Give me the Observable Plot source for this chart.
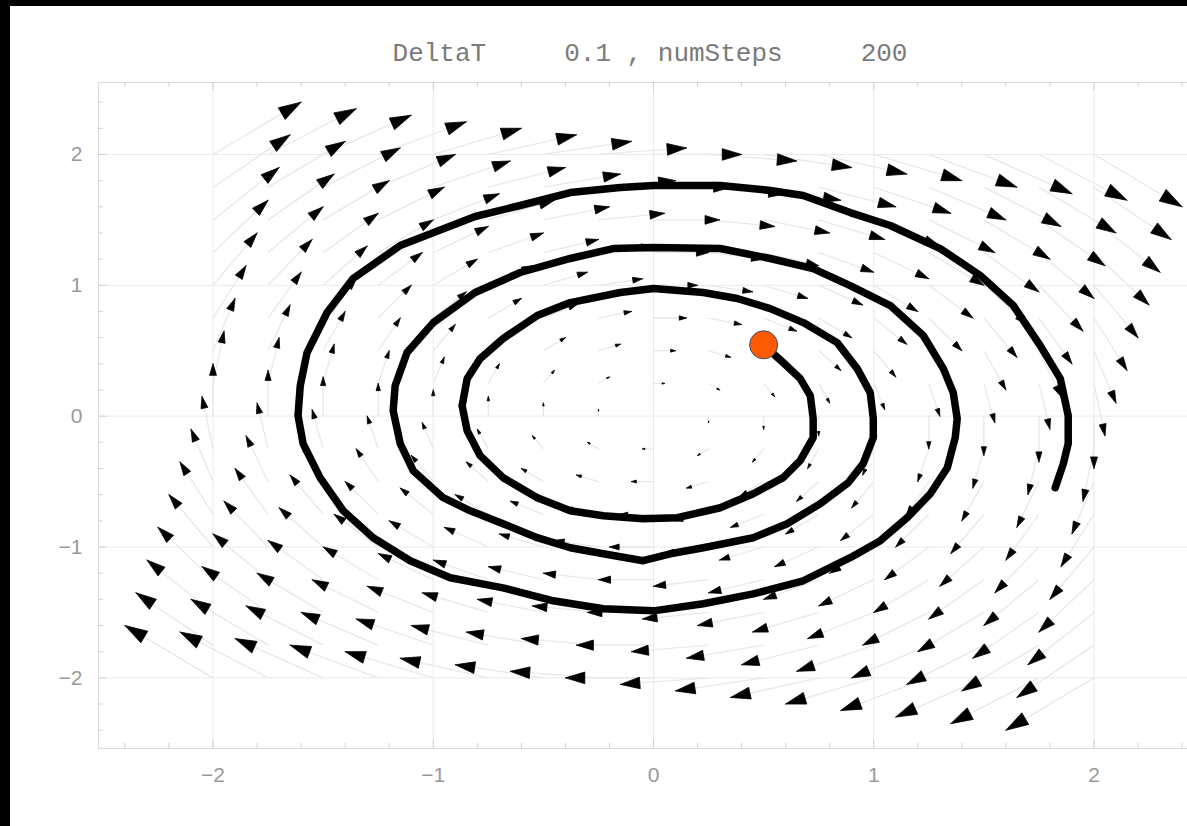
<!DOCTYPE html>
<html>
<head>
<meta charset="utf-8">
<script src="https://cdn.jsdelivr.net/npm/d3@7"></script>
<script src="https://cdn.jsdelivr.net/npm/@observablehq/plot@0.6"></script>
<style>
  html, body { margin: 0; padding: 0; background: #000; overflow: hidden; width: 1187px; height: 826px; }
  #sheet { position: absolute; left: 10px; top: 6px; width: 1177px; height: 820px; background: #fff; overflow: hidden; }
  #title { position: absolute; left: 640px; top: 35px; transform: translateX(-50%);
           font-family: "Liberation Mono", monospace; font-size: 26px; line-height: 26px;
           color: #7a7a7a; white-space: pre; }
  #chart { position: absolute; left: 0; top: 0; width: 1198px; }
  #chart svg { max-width: none !important; }
</style>
</head>
<body>
<div id="sheet">
  <div id="title"></div>
  <div id="chart"></div>
</div>
<script>
// Euler-method settings shown in the heading
const deltaT = 0.1;
const numSteps = 200;

// Linear system x' = A x (rotation field)
const fieldMatrix = [[0, 1], [-1, 0]];

// Sample positions of the vector field (both axes)
const gridValues = [-2, -1.75, -1.5, -1.25, -1, -0.75, -0.5, -0.25, 0, 0.25, 0.5, 0.75, 1, 1.25, 1.5, 1.75, 2];

// Axis ticks
const majorTicks = [-2, -1, 0, 1, 2];
const minorTicks = [-2.4, -2.2, -1.8, -1.6, -1.4, -1.2, -0.8, -0.6, -0.4, -0.2,
                    0.2, 0.4, 0.6, 0.8, 1.2, 1.4, 1.6, 1.8, 2.2, 2.4];

// Start point of the trajectory
const startPoint = [0.5, 0.545];

// Trajectory (spiralling outward, clockwise)
const pathX = [0.500, 0.589, 0.666, 0.712, 0.725, 0.725, 0.666, 0.589, 0.453, 0.303,
  0.108, -0.047, -0.228, -0.378, -0.528, -0.683, -0.787, -0.846, -0.869, -0.846,
  -0.787, -0.683, -0.528, -0.378, -0.151, 0.000, 0.226, 0.380, 0.530, 0.680,
  0.834, 0.925, 0.984, 0.998, 0.998, 0.952, 0.884, 0.757, 0.607, 0.453,
  0.226, 0.076, -0.047, -0.228, -0.378, -0.528, -0.683, -0.832, -0.955, -1.091,
  -1.150, -1.182, -1.173, -1.119, -1.000, -0.810, -0.605, -0.378, -0.183, 0.000,
  0.303, 0.530, 0.725, 0.893, 1.075, 1.225, 1.316, 1.361, 1.379, 1.370,
  1.334, 1.257, 1.152, 1.030, 0.893, 0.680, 0.453, 0.226, 0.000, -0.228,
  -0.455, -0.683, -0.923, -1.105, -1.273, -1.409, -1.514, -1.591, -1.614, -1.604,
  -1.573, -1.482, -1.364, -1.150, -0.810, -0.605, -0.378, -0.151, 0.000, 0.303,
  0.530, 0.680, 0.893, 1.075, 1.302, 1.484, 1.634, 1.756, 1.847, 1.883,
  1.883, 1.861, 1.824];
const pathY = [0.545, 0.409, 0.287, 0.157, -0.019, -0.164, -0.340, -0.470, -0.593, -0.700,
  -0.776, -0.784, -0.761, -0.723, -0.623, -0.470, -0.302, -0.111, 0.080, 0.287,
  0.440, 0.593, 0.769, 0.868, 0.945, 0.975, 0.945, 0.899, 0.822, 0.715,
  0.562, 0.363, 0.180, -0.019, -0.164, -0.363, -0.509, -0.669, -0.822, -0.929,
  -1.006, -1.052, -1.105, -1.052, -1.006, -0.929, -0.822, -0.723, -0.623, -0.417,
  -0.210, 0.042, 0.233, 0.486, 0.715, 0.945, 1.098, 1.205, 1.281, 1.289,
  1.281, 1.205, 1.128, 0.998, 0.845, 0.616, 0.363, 0.180, -0.019, -0.164,
  -0.394, -0.593, -0.776, -0.952, -1.082, -1.258, -1.358, -1.434, -1.488, -1.472,
  -1.411, -1.312, -1.235, -1.105, -0.929, -0.723, -0.470, -0.210, 0.004, 0.233,
  0.486, 0.792, 1.052, 1.304, 1.526, 1.610, 1.709, 1.748, 1.763, 1.763,
  1.725, 1.686, 1.556, 1.457, 1.281, 1.075, 0.845, 0.539, 0.287, 0.004,
  -0.210, -0.363, -0.547];

// ---- layout ----
const width = 1198, height = 802;
const marginLeft = 88, marginRight = 0, marginTop = 76, marginBottom = 60;
const xDomain = [-2.52, 2.52], yDomain = [-2.54, 2.55];
const innerW = width - marginLeft - marginRight;
const innerH = height - marginTop - marginBottom;
const kx = innerW / (xDomain[1] - xDomain[0]);   // px per unit
const ky = innerH / (yDomain[1] - yDomain[0]);

const arrowScale = 0.2;    // arrow length per unit of field magnitude
const headRatio = 0.22;    // arrowhead length relative to arrow length
const headHalfWidth = 0.3;

document.getElementById("title").textContent =
  `DeltaT     ${deltaT} , numSteps     ${numSteps}`;

// Arrows: tail at each grid point, tip at p + s·(A p)
const arrows = [];
for (const gx of gridValues) {
  for (const gy of gridValues) {
    const u = fieldMatrix[0][0] * gx + fieldMatrix[0][1] * gy;
    const v = fieldMatrix[1][0] * gx + fieldMatrix[1][1] * gy;
    if (u === 0 && v === 0) continue;
    arrows.push({x1: gx, y1: gy, x2: gx + arrowScale * u, y2: gy + arrowScale * v, u, v});
  }
}

// Arrowhead triangles, shaped in screen space and expressed back in data units
const heads = [];
arrows.forEach((a, i) => {
  const sx = a.u * arrowScale * kx, sy = -a.v * arrowScale * ky;
  const L = Math.hypot(sx, sy);
  const ex = sx / L, ey = sy / L;
  const h = headRatio * L, w = headHalfWidth * h;
  const bx = -h * ex, by = -h * ey;         // base centre offset (px)
  const c1 = [bx - w * ey, by + w * ex];
  const c2 = [bx + w * ey, by - w * ex];
  const toData = ([px, py]) => [a.x2 + px / kx, a.y2 - py / ky];
  const p1 = toData(c1), p2 = toData(c2);
  heads.push({id: i, hx: a.x2, hy: a.y2});
  heads.push({id: i, hx: p1[0], hy: p1[1]});
  heads.push({id: i, hx: p2[0], hy: p2[1]});
  heads.push({id: i, hx: a.x2, hy: a.y2});
});

const trajectory = pathX.map((x, i) => ({px: x, py: pathY[i]}));

const fmt = d => (d < 0 ? "\u2212" + Math.abs(d) : String(d));
const gridColor = "#e9e9f3";
const frameColor = "#dcdcdc";
const tickColor = "#cfcfcf";
const labelFont = "Liberation Sans, sans-serif";

const chart = Plot.plot({
  width, height, marginLeft, marginRight, marginTop, marginBottom,
  style: {background: "transparent", overflow: "visible", maxWidth: "none"},
  x: {domain: xDomain, axis: null, label: null},
  y: {domain: yDomain, axis: null, label: null},
  marks: [
    // grid
    Plot.ruleX(majorTicks, {x: d => d, stroke: gridColor, strokeWidth: 1}),
    Plot.ruleY(majorTicks, {y: d => d, stroke: gridColor, strokeWidth: 1}),
    // field: faint shafts, then black heads
    Plot.link(arrows, {x1: "x1", y1: "y1", x2: "x2", y2: "y2", stroke: "#e8e8e8", strokeWidth: 1.3}),
    Plot.line(heads, {x: "hx", y: "hy", z: "id", fill: "black", stroke: "black", strokeWidth: 0.8, strokeLinejoin: "round"}),
    // trajectory
    Plot.line(trajectory, {x: "px", y: "py", stroke: "black", strokeWidth: 7.5, strokeLinejoin: "round", strokeLinecap: "round"}),
    Plot.dot([startPoint], {x: d => d[0], y: d => d[1], r: 14, fill: "#ff5a00", stroke: "#3d4b6b", strokeWidth: 1}),
    // frame and inward ticks
    Plot.frame({stroke: frameColor}),
    Plot.ruleX(minorTicks, {x: d => d, insetTop: innerH - 5, stroke: tickColor}),
    Plot.ruleX(majorTicks, {x: d => d, insetTop: innerH - 8, stroke: tickColor}),
    Plot.ruleX(minorTicks, {x: d => d, insetBottom: innerH - 5, stroke: tickColor}),
    Plot.ruleX(majorTicks, {x: d => d, insetBottom: innerH - 8, stroke: tickColor}),
    Plot.ruleY(minorTicks, {y: d => d, insetRight: innerW - 5, stroke: tickColor}),
    Plot.ruleY(majorTicks, {y: d => d, insetRight: innerW - 8, stroke: tickColor}),
    // tick labels
    Plot.text(majorTicks, {x: d => d, frameAnchor: "bottom", dy: 33, text: fmt,
      fontSize: 21, fill: "#999999", fontFamily: labelFont}),
    Plot.text(majorTicks, {y: d => d, frameAnchor: "left", dx: -16, textAnchor: "end", text: fmt,
      fontSize: 21, fill: "#999999", fontFamily: labelFont})
  ]
});
document.getElementById("chart").appendChild(chart);
</script>
</body>
</html>
